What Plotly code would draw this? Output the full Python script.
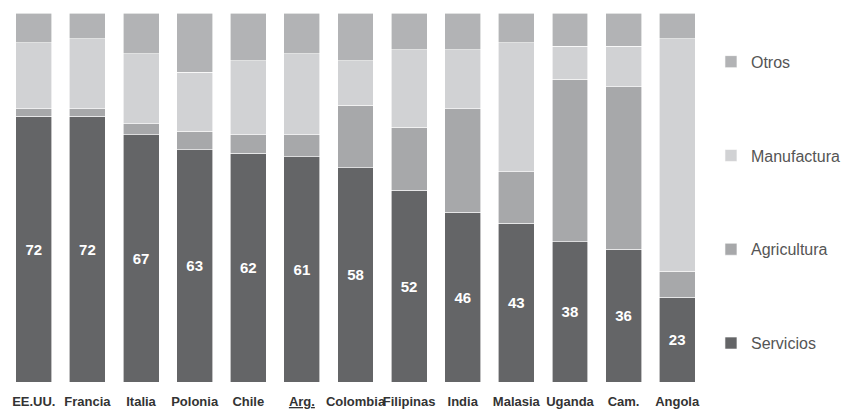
import plotly.graph_objects as go

countries = ["EE.UU.", "Francia", "Italia", "Polonia", "Chile", "<u>Arg.</u>", "Colombia",
             "Filipinas", "India", "Malasia", "Uganda", "Cam.", "Angola"]
servicios = [72, 72, 67, 63, 62, 61, 58, 52, 46, 43, 38, 36, 23]
agricultura = [2, 2, 3, 5, 5, 6, 17, 17, 28, 14, 44, 44, 7]
manufactura = [18, 19, 19, 16, 20, 22, 12, 21, 16, 35, 9, 11, 63]
otros = [8, 7, 11, 16, 13, 11, 13, 10, 10, 8, 9, 9, 7]

fig = go.Figure()
line = dict(color="white", width=0.6)
fig.add_trace(go.Bar(name="Servicios", x=countries, y=servicios,
                     marker=dict(color="#646567", line=line),
                     text=servicios, texttemplate="%{text}", textposition="inside",
                     insidetextanchor="middle", textangle=0, constraintext="none",
                     textfont=dict(color="white", size=15, family="Liberation Sans, Arial",
                                   weight="bold"),
                     legendgroup="s", legendrank=4, hoverinfo="skip"))
fig.add_trace(go.Bar(name="Agricultura", x=countries, y=agricultura,
                     marker=dict(color="#a7a8aa", line=line), legendgroup="a",
                     legendrank=3, hoverinfo="skip"))
fig.add_trace(go.Bar(name="Manufactura", x=countries, y=manufactura,
                     marker=dict(color="#d1d2d4", line=line), legendgroup="m",
                     legendrank=2, hoverinfo="skip"))
fig.add_trace(go.Bar(name="Otros", x=countries, y=otros,
                     marker=dict(color="#b2b3b5", line=line), legendgroup="o",
                     legendrank=1, hoverinfo="skip"))

fig.update_layout(
    width=847, height=412,
    margin=dict(l=7, r=143, t=13, b=30, autoexpand=False),
    barmode="stack", bargap=0.33,
    plot_bgcolor="white", paper_bgcolor="white",
    font=dict(family="Liberation Sans, Arial", color="#555555"),
    showlegend=True,
    legend=dict(x=1.010, xanchor="left", y=0.914, yanchor="top",
                traceorder="grouped", tracegroupgap=70,
                font=dict(size=16, color="#555555"), bgcolor="rgba(0,0,0,0)"),
    xaxis=dict(showgrid=False, showline=False, zeroline=False, ticks="",
               automargin=False, ticklabelstandoff=10, tickangle=0,
               tickfont=dict(size=13, color="#333333", weight="bold")),
    yaxis=dict(range=[0, 100], visible=False, showgrid=False),
)

fig.write_html("out.html")
